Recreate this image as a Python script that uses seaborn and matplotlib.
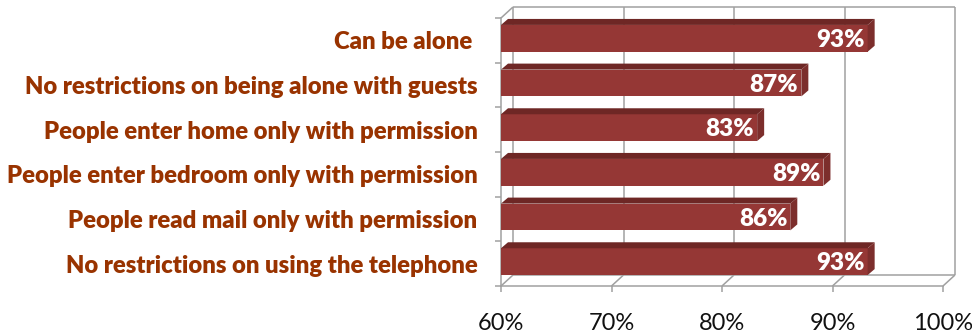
import matplotlib
matplotlib.use("Agg")
import matplotlib.pyplot as plt
from matplotlib.patches import Polygon
from matplotlib.ticker import FixedLocator
import seaborn as sns
import pandas as pd

# Share of residents reporting each privacy condition
categories = [
    "Can be alone ",
    "No restrictions on being alone with guests",
    "People enter home only with permission",
    "People enter bedroom only with permission",
    "People read mail only with permission",
    "No restrictions on using the telephone",
]
shares = [93, 87, 83, 89, 86, 93]
x_ticks = [60, 70, 80, 90, 100]
x_tick_labels = ["60%", "70%", "80%", "90%", "100%"]

FRONT = "#953735"
TOP = "#6E2725"
SIDE = "#7C2E2C"
LABEL = "#993300"
WALL = "#A0A0A0"

sns.set_theme(style="white")
plt.rcParams["font.family"] = ["Lato", "DejaVu Sans"]

W, H, DPI = 972, 334, 100
fig = plt.figure(figsize=(W / DPI, H / DPI), dpi=DPI)
fig.patch.set_facecolor("white")
ax = fig.add_axes([501 / W, 48 / H, 442 / W, 268 / H])

df = pd.DataFrame({"item": categories, "share": shares})
sns.barplot(data=df, x="share", y="item", orient="h", color=FRONT,
            saturation=1, width=0.6, ax=ax, zorder=2)

xlim = (x_ticks[0], x_ticks[-1])
ylim = (len(categories) - 0.5, -0.5)
ax.set_xlim(*xlim)
ax.set_ylim(*ylim)
ax.set_xlabel("")
ax.set_ylabel("")

# data units per pixel, for the oblique depth effect
bbox = ax.get_window_extent()
ux = (xlim[1] - xlim[0]) / bbox.width
uy = (ylim[0] - ylim[1]) / bbox.height

# back wall / floor of the pseudo-3D frame
wdx, wdy = 12 * ux, 11 * uy
y_top, y_bot = ylim[1], ylim[0]
line_kw = dict(color=WALL, lw=1.1, zorder=0.5, clip_on=False, solid_capstyle="butt")
ax.plot([xlim[0] + wdx, xlim[1] + wdx], [y_top - wdy, y_top - wdy], **line_kw)
ax.plot([xlim[0] + wdx, xlim[1] + wdx], [y_bot - wdy, y_bot - wdy], **line_kw)
for t in x_ticks:
    ax.plot([t + wdx, t + wdx], [y_top - wdy, y_bot - wdy], **line_kw)
    ax.plot([t, t + wdx], [y_bot, y_bot - wdy], **line_kw)
ax.plot([xlim[0], xlim[0] + wdx], [y_top, y_top - wdy], **line_kw)

# bar depth faces and value labels
bdx, bdy = 7 * ux, 6 * uy
sdx, sdy = 2 * ux, 2 * uy
for patch, value in zip(ax.patches, shares):
    patch.set_x(patch.get_x() + sdx)
    patch.set_y(patch.get_y() - sdy)
    patch.set_edgecolor("none")
    x0 = xlim[0]
    x1 = patch.get_x() + patch.get_width()
    yt = patch.get_y()
    yb = yt + patch.get_height()
    top = Polygon([(x0, yt), (x1, yt), (x1 + bdx, yt - bdy), (x0 + bdx, yt - bdy)],
                  closed=True, facecolor=TOP, edgecolor="none", zorder=2, clip_on=False)
    side = Polygon([(x1, yt), (x1 + bdx, yt - bdy), (x1 + bdx, yb - bdy), (x1, yb)],
                   closed=True, facecolor=SIDE, edgecolor="none", zorder=2, clip_on=False)
    ax.add_patch(top)
    ax.add_patch(side)
    ax.text(x1 - 3 * ux, (yt + yb) / 2 + 1.5 * uy, f"{value}%", ha="right", va="center",
            color="white", fontsize=17.5, fontweight="heavy", zorder=3)

# axes frame and ticks
for s in ("top", "right"):
    ax.spines[s].set_visible(False)
for s in ("left", "bottom"):
    ax.spines[s].set_color(WALL)
    ax.spines[s].set_linewidth(1.1)
    ax.spines[s].set_zorder(0.5)

ax.set_xticks(x_ticks)
ax.set_xticklabels(x_tick_labels)
ax.tick_params(axis="x", which="major", direction="out", length=4.5, width=1.1,
               color=WALL, pad=15, labelsize=17, labelcolor="#111111", bottom=True)
ax.yaxis.set_minor_locator(FixedLocator([i - 0.5 for i in range(len(categories) + 1)]))
ax.tick_params(axis="y", which="minor", direction="out", length=4.5, width=1.1,
               color=WALL, left=True)
ax.tick_params(axis="y", which="major", length=0, pad=17, labelsize=17.2,
               labelcolor=LABEL)
for lbl in ax.get_yticklabels():
    lbl.set_fontweight("heavy")

fig.savefig("out.png", dpi=DPI, facecolor="white")
